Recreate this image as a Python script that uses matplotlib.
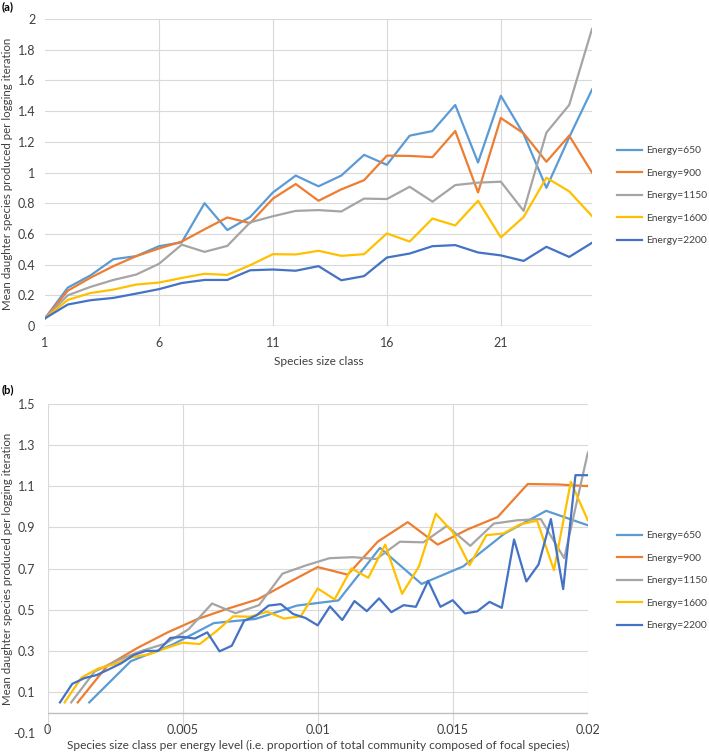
import matplotlib
matplotlib.use('Agg')
from matplotlib import pyplot as plt
import numpy as np

plt.rcParams['font.family'] = ['Lato', 'DejaVu Sans']

# ----- data -----
energies = [650, 900, 1150, 1600, 2200]
labels = ['Energy=650', 'Energy=900', 'Energy=1150', 'Energy=1600', 'Energy=2200']
colors = ['#5B9BD5', '#ED7D31', '#A5A5A5', '#FFC000', '#4472C4']

# mean daughter species per size class (class 1, 2, 3, ...)
e650 = [0.05, 0.25, 0.33, 0.435, 0.455, 0.52, 0.545, 0.80, 0.625, 0.71, 0.87, 0.98, 0.91,
        0.98, 1.115, 1.05, 1.24, 1.27, 1.44, 1.065, 1.50, 1.25, 0.90, 1.23, 1.54]
e900 = [0.05, 0.23, 0.315, 0.39, 0.455, 0.505, 0.55, 0.63, 0.707, 0.67, 0.83, 0.925, 0.816,
        0.89, 0.95, 1.11, 1.108, 1.10, 1.27, 0.87, 1.355, 1.255, 1.07, 1.24, 1.0]
e1150 = [0.05, 0.20, 0.255, 0.30, 0.335, 0.405, 0.53, 0.483, 0.522, 0.675, 0.715, 0.75, 0.755,
         0.746, 0.83, 0.827, 0.907, 0.81, 0.918, 0.934, 0.94, 0.75, 1.26, 1.44, 1.935]
e1600 = [0.05, 0.17, 0.215, 0.237, 0.27, 0.283, 0.313, 0.34, 0.333, 0.396, 0.468, 0.466, 0.49,
         0.457, 0.468, 0.603, 0.55, 0.70, 0.655, 0.816, 0.577, 0.71, 0.966, 0.877, 0.716,
         0.862, 0.870, 0.914, 0.932, 0.692, 1.121, 0.935]
e2200 = [0.05, 0.14, 0.168, 0.183, 0.211, 0.24, 0.28, 0.30, 0.30, 0.363, 0.368, 0.36, 0.39,
         0.298, 0.325, 0.446, 0.472, 0.52, 0.527, 0.479, 0.46, 0.424, 0.516, 0.45, 0.542,
         0.493, 0.555, 0.488, 0.522, 0.514, 0.64, 0.514, 0.546, 0.482, 0.492, 0.538, 0.509,
         0.841, 0.637, 0.72, 0.94, 0.60, 1.153, 1.153]
series = [e650, e900, e1150, e1600, e2200]

xticks_a = [1, 6, 11, 16, 21]
yticks_a = [0, 0.2, 0.4, 0.6, 0.8, 1, 1.2, 1.4, 1.6, 1.8, 2]
xticks_b = [0, 0.005, 0.01, 0.015, 0.02]
yticks_b = [-0.1, 0.1, 0.3, 0.5, 0.7, 0.9, 1.1, 1.3, 1.5]

W, H = 709, 752
fig = plt.figure(figsize=(W / 100, H / 100), dpi=100)

grid_c = '#D9D9D9'
txt_c = '#404040'
ylab = 'Mean daughter species produced per logging iteration'


def style_axes(ax):
    for s in ax.spines.values():
        s.set_visible(False)
    ax.tick_params(length=0, labelsize=9, colors=txt_c)
    ax.grid(True, color=grid_c, lw=0.8, zorder=0)
    ax.set_axisbelow(True)


def add_legend(ax, top_px):
    ax.legend(loc='upper left', bbox_to_anchor=(617 / W, 1 - top_px / H), bbox_transform=fig.transFigure,
              frameon=False, fontsize=7.4, handlelength=2.4, handletextpad=0.4, labelspacing=1.3,
              borderpad=0, borderaxespad=0, labelcolor=txt_c)


# ----- panel (a) -----
ax1 = fig.add_axes([45 / W, 1 - 326 / H, 547 / W, 307 / H])
style_axes(ax1)
for vals, lab, c in zip(series, labels, colors):
    cls = np.arange(1, 26)
    ax1.plot(cls, vals[:25], color=c, lw=1.6, label=lab, zorder=3)
ax1.set_xlim(1, 25)
ax1.set_ylim(0, 2)
ax1.set_xticks(xticks_a)
ax1.set_xticklabels([str(v) for v in xticks_a])
ax1.set_yticks(yticks_a)
ax1.set_yticklabels(['0', '0.2', '0.4', '0.6', '0.8', '1', '1.2', '1.4', '1.6', '1.8', '2'])
ax1.grid(False, axis='x')
for v in xticks_a[1:]:
    ax1.axvline(v, color=grid_c, lw=0.8, zorder=0)
ax1.axhline(0, color='#BFBFBF', lw=1, zorder=2)
ax1.tick_params(axis='x', pad=8)
ax1.tick_params(axis='y', pad=7)
ax1.set_xlabel('Species size class', fontsize=8.6, labelpad=5, color=txt_c)
fig.text(8 / W, 1 - 174 / H, ylab, fontsize=8.3, rotation=90, ha='center', va='center', color=txt_c)
add_legend(ax1, 146)
fig.text(2 / W, 1 - 7 / H, '(a)', fontsize=8, fontweight='bold', va='center', ha='left')

# ----- panel (b) -----
ax2 = fig.add_axes([47.7 / W, 1 - 733.3 / H, 540 / W, 329.6 / H])
style_axes(ax2)
for vals, e, lab, c in zip(series, energies, labels, colors):
    xb = np.arange(1, len(vals) + 1) / e
    ax2.plot(xb, vals, color=c, lw=1.6, label=lab, zorder=3)
ax2.set_xlim(0, 0.02)
ax2.set_ylim(-0.1, 1.5)
ax2.set_xticks(xticks_b)
ax2.set_xticklabels(['0', '0.005', '0.01', '0.015', '0.02'])
ax2.set_yticks(yticks_b)
ax2.set_yticklabels(['-0.1', '0.1', '0.3', '0.5', '0.7', '0.9', '1.1', '1.3', '1.5'])
ax2.grid(False, axis='y')
for v in yticks_b[1:]:
    ax2.axhline(v, color=grid_c, lw=0.8, zorder=0)
ax2.axhline(0, color='#BFBFBF', lw=1, zorder=2)
ax2.tick_params(axis='x', pad=-7)
ax2.tick_params(axis='y', pad=9)
ax2.set_xlabel('Species size class per energy level (i.e. proportion of total community composed of focal species)',
               fontsize=8.6, labelpad=3, color=txt_c)
fig.text(8 / W, 1 - 569 / H, ylab, fontsize=8.3, rotation=90, ha='center', va='center', color=txt_c)
add_legend(ax2, 531)
fig.text(2 / W, 1 - 390 / H, '(b)', fontsize=8, fontweight='bold', va='center', ha='left')

fig.savefig('out.png', dpi=100)
